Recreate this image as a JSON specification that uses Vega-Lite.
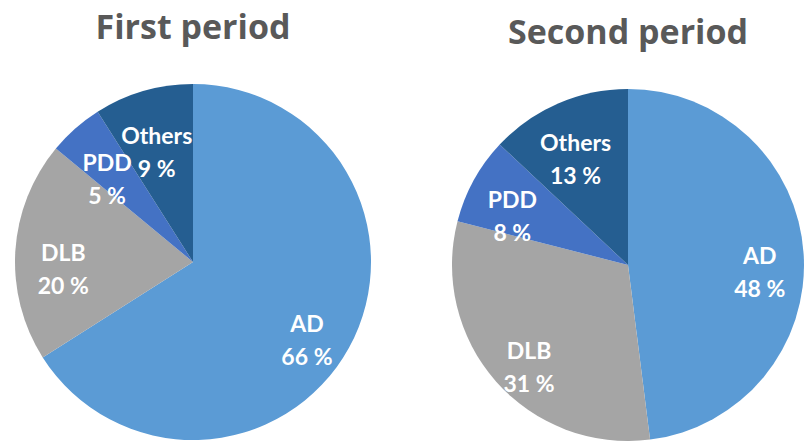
{
  "$schema": "https://vega.github.io/schema/vega-lite/v6.json",
  "padding": {"top": 12, "left": 0, "right": 0, "bottom": 0},
  "background": "white",
  "spacing": 66,
  "datasets": {
    "p1": [
      {"cat": "AD", "pct": 66, "k": 1},
      {"cat": "DLB", "pct": 20, "k": 2},
      {"cat": "PDD", "pct": 5, "k": 3},
      {"cat": "Others", "pct": 9, "k": 4}
    ],
    "p2": [
      {"cat": "AD", "pct": 48, "k": 1},
      {"cat": "DLB", "pct": 31, "k": 2},
      {"cat": "PDD", "pct": 8, "k": 3},
      {"cat": "Others", "pct": 13, "k": 4}
    ]
  },
  "config": {
    "view": {"stroke": null},
    "title": {"font": "Open Sans", "fontSize": 34, "fontWeight": "bold", "color": "#595959"}
  },
  "hconcat": [
    {
      "width": 386,
      "height": 356,
      "title": {"text": "First period", "offset": 38},
      "data": {"name": "p1"},
      "transform": [{"calculate": "datum.cat + '\\n' + datum.pct + ' %'", "as": "label"}],
      "encoding": {
        "theta": {"field": "pct", "type": "quantitative", "stack": true},
        "order": {"field": "k", "type": "quantitative"}
      },
      "layer": [
        {
          "mark": {"type": "arc", "outerRadius": 178},
          "encoding": {
            "color": {"field": "cat", "type": "nominal", "legend": null,
              "scale": {"domain": ["AD", "DLB", "PDD", "Others"], "range": ["#5B9BD5", "#A5A5A5", "#4472C4", "#255E91"]}}
          }
        },
        {
          "mark": {"type": "text", "radius": 130, "font": "Lato", "fontSize": 23, "fontWeight": "bold", "fill": "white", "lineBreak": "\n", "lineHeight": 33, "baseline": "middle"},
          "encoding": {"text": {"field": "label"}}
        }
      ]
    },
    {
      "width": 352,
      "height": 362,
      "title": {"text": "Second period", "offset": 33},
      "data": {"name": "p2"},
      "transform": [{"calculate": "datum.cat + '\\n' + datum.pct + ' %'", "as": "label"}],
      "encoding": {
        "theta": {"field": "pct", "type": "quantitative", "stack": true},
        "order": {"field": "k", "type": "quantitative"}
      },
      "layer": [
        {
          "mark": {"type": "arc", "outerRadius": 176},
          "encoding": {
            "color": {"field": "cat", "type": "nominal", "legend": null,
              "scale": {"domain": ["AD", "DLB", "PDD", "Others"], "range": ["#5B9BD5", "#A5A5A5", "#4472C4", "#255E91"]}}
          }
        },
        {
          "mark": {"type": "text", "radius": 132, "font": "Lato", "fontSize": 23, "fontWeight": "bold", "fill": "white", "lineBreak": "\n", "lineHeight": 33, "baseline": "middle"},
          "encoding": {"text": {"field": "label"}}
        }
      ]
    }
  ]
}
